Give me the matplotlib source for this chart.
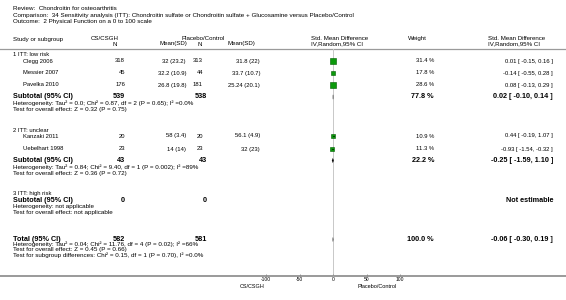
import numpy as np
import matplotlib.pyplot as plt
from matplotlib.patches import Polygon

plt.rcParams['font.family'] = ['Liberation Sans', 'DejaVu Sans']

# ---- data ----
group_titles = ['1 ITT: low risk', '2 ITT: unclear', '3 ITT: high risk']
studies = [['Clegg 2006', 'Messier 2007', 'Pavelka 2010'],
           ['Kanzaki 2011', 'Uebelhart 1998'],
           []]
cs_n = [[318, 45, 176], [20, 23], []]
cs_msd = [['32 (23.2)', '32.2 (10.9)', '26.8 (19.8)'], ['58 (3.4)', '14 (14)'], []]
pc_n = [[313, 44, 181], [20, 23], []]
pc_msd = [['31.8 (22)', '33.7 (10.7)', '25.24 (20.1)'], ['56.1 (4.9)', '32 (23)'], []]
weights = [[31.4, 17.8, 28.6], [10.9, 11.3], []]
smd = [[0.01, -0.14, 0.08], [0.44, -0.93], []]
ci_lo = [[-0.15, -0.55, -0.13], [-0.19, -1.54], []]
ci_hi = [[0.16, 0.28, 0.29], [1.07, -0.32], []]

sub_cs_n = [539, 43, 0]
sub_pc_n = [538, 43, 0]
sub_weight = ['77.8 %', '22.2 %', '']
sub_est = [0.02, -0.25, None]
sub_lo = [-0.10, -1.59, None]
sub_hi = [0.14, 1.10, None]
sub_het = ['Heterogeneity: Tau\u00b2 = 0.0; Chi\u00b2 = 0.87, df = 2 (P = 0.65); I\u00b2 =0.0%',
           'Heterogeneity: Tau\u00b2 = 0.84; Chi\u00b2 = 9.40, df = 1 (P = 0.002); I\u00b2 =89%',
           'Heterogeneity: not applicable']
sub_test = ['Test for overall effect: Z = 0.32 (P = 0.75)',
            'Test for overall effect: Z = 0.36 (P = 0.72)',
            'Test for overall effect: not applicable']

tot_cs_n, tot_pc_n = 582, 581
tot_est, tot_lo, tot_hi = -0.06, -0.30, 0.19
tot_lines = ['Heterogeneity: Tau\u00b2 = 0.04; Chi\u00b2 = 11.76, df = 4 (P = 0.02); I\u00b2 =66%',
             'Test for overall effect: Z = 0.45 (P = 0.66)',
             'Test for subgroup differences: Chi\u00b2 = 0.15, df = 1 (P = 0.70), I\u00b2 =0.0%']
axis_ticks = [-100, -50, 0, 50, 100]

# ---- layout (pixel coordinates, y downwards) ----
W, H = 566, 300
fig = plt.figure(figsize=(W / 100, H / 100), dpi=100)
ax = fig.add_axes([0, 0, 1, 1])
ax.set_xlim(0, W)
ax.set_ylim(H, 0)
ax.axis('off')

# forest panel: -100..100 maps to x 266..400
fx = fig.add_axes([266 / W, 0, 134 / W, 1])
fx.set_xlim(-100, 100)
fx.set_ylim(H, 0)
fx.patch.set_alpha(0)
for s in fx.spines.values():
    s.set_visible(False)
fx.set_yticks([])
fx.set_xticks(axis_ticks)
fx.set_xticklabels([str(t) for t in axis_ticks])
fx.tick_params(axis='x', direction='in', length=1.5, width=0.6, color='#888888',
               labelsize=3.6, pad=1.0, bottom=True)
for lab in fx.get_xticklabels():
    lab.set_horizontalalignment('left')
# ticks sit on the axis line at y=276
fx.spines['bottom'].set_position(('data', 276))

SM, BD, HT = 4.2, 5.2, 4.5
col_cs_n, col_cs_m, col_pc_n, col_pc_m = 125, 186, 203, 260
col_w, col_ci = 434, 553


def t(x, y, s, ha='left', size=SM, weight='normal'):
    ax.text(x, y, s, ha=ha, va='center', fontsize=size, fontweight=weight)


def fmt_ci(e, lo, hi):
    return f'{e:.2f} [ {lo:.2f}, {hi:.2f} ]'


t(13, 8.5, 'Review:  Chondroitin for osteoarthritis', size=4.5)
t(13, 15, 'Comparison:  34 Sensitivity analysis (ITT): Chondroitin sulfate or Chondroitin sulfate + '
          'Glucosamine versus Placebo/Control', size=4.5)
t(13, 21.5, 'Outcome:  2 Physical Function on a 0 to 100 scale', size=4.5)

t(13, 39, 'Study or subgroup', size=4.4)
t(91, 38.5, 'CS/CSGH', size=4.4)
t(117, 44, 'N', ha='right', size=4.4)
t(187, 44, 'Mean(SD)', ha='right', size=4.4)
t(182, 38.5, 'Placebo/Control', size=4.4)
t(202, 44, 'N', ha='right', size=4.4)
t(255, 44, 'Mean(SD)', ha='right', size=4.4)
t(311, 38.5, 'Std. Mean Difference', size=4.4)
t(311, 44, 'IV,Random,95% CI', size=4.4)
t(408, 38.5, 'Weight', size=4.4)
t(488, 38.5, 'Std. Mean Difference', size=4.4)
t(488, 44, 'IV,Random,95% CI', size=4.4)

ax.plot([0, W], [48.5, 48.5], color='#9a9a9a', lw=0.9)
ax.plot([0, W], [276, 276], color='#9a9a9a', lw=1.4)
fx.plot([0, 0], [49, 276], color='#c8c8c8', lw=0.7, zorder=1)

group_y = [55, 130, 194]
row_y = [[61, 73, 85], [136, 149], []]
sub_y = [97, 160.5, 200]

for g in range(3):
    t(13, group_y[g], group_titles[g])
    for i, name in enumerate(studies[g]):
        y = row_y[g][i]
        t(23, y, name)
        t(col_cs_n, y, str(cs_n[g][i]), ha='right')
        t(col_cs_m, y, cs_msd[g][i], ha='right')
        t(col_pc_n, y, str(pc_n[g][i]), ha='right')
        t(col_pc_m, y, pc_msd[g][i], ha='right')
        t(col_w, y, f'{weights[g][i]} %', ha='right')
        t(col_ci, y, fmt_ci(smd[g][i], ci_lo[g][i], ci_hi[g][i]), ha='right')
        fx.plot([ci_lo[g][i], ci_hi[g][i]], [y, y], color='black', lw=0.5, zorder=3)
        fx.plot(smd[g][i], y, marker='s', markersize=np.sqrt(weights[g][i]) * 0.72,
                markerfacecolor='#0b9a0b', markeredgecolor='#005a00',
                markeredgewidth=0.4, zorder=2)
    ys = sub_y[g]
    t(13, ys, 'Subtotal (95% CI)', size=BD, weight='bold')
    t(col_cs_n, ys, str(sub_cs_n[g]), ha='right', size=BD, weight='bold')
    t(col_pc_n + 4, ys, str(sub_pc_n[g]), ha='right', size=BD, weight='bold')
    if sub_est[g] is not None:
        t(col_w, ys, sub_weight[g], ha='right', size=BD, weight='bold')
        t(col_ci, ys, fmt_ci(sub_est[g], sub_lo[g], sub_hi[g]), ha='right', size=BD, weight='bold')
        fx.add_patch(Polygon([(sub_lo[g], ys), (sub_est[g], ys - 2.2), (sub_hi[g], ys),
                              (sub_est[g], ys + 2.2)], closed=True, facecolor='black',
                             edgecolor='black', lw=0.15, zorder=3))
    else:
        t(col_ci, ys, 'Not estimable', ha='right', size=BD, weight='bold')
    t(13, ys + 6.3, sub_het[g], size=HT)
    t(13, ys + 12.8, sub_test[g], size=HT)

ty = 239.5
t(13, ty, 'Total (95% CI)', size=BD, weight='bold')
t(col_cs_n, ty, str(tot_cs_n), ha='right', size=BD, weight='bold')
t(col_pc_n + 4, ty, str(tot_pc_n), ha='right', size=BD, weight='bold')
t(col_w, ty, '100.0 %', ha='right', size=BD, weight='bold')
t(col_ci, ty, fmt_ci(tot_est, tot_lo, tot_hi), ha='right', size=BD, weight='bold')
fx.add_patch(Polygon([(tot_lo, ty), (tot_est, ty - 2.2), (tot_hi, ty), (tot_est, ty + 2.2)],
                     closed=True, facecolor='black', edgecolor='black', lw=0.15, zorder=3))
for k, line in enumerate(tot_lines):
    t(13, ty + 5 + 5.5 * k, line, size=HT)

t(265, 287, 'CS/CSGH', ha='right', size=4.0)
t(377, 287, 'Placebo/Control', ha='center', size=4.0)

fig.savefig('out.png', dpi=100)
